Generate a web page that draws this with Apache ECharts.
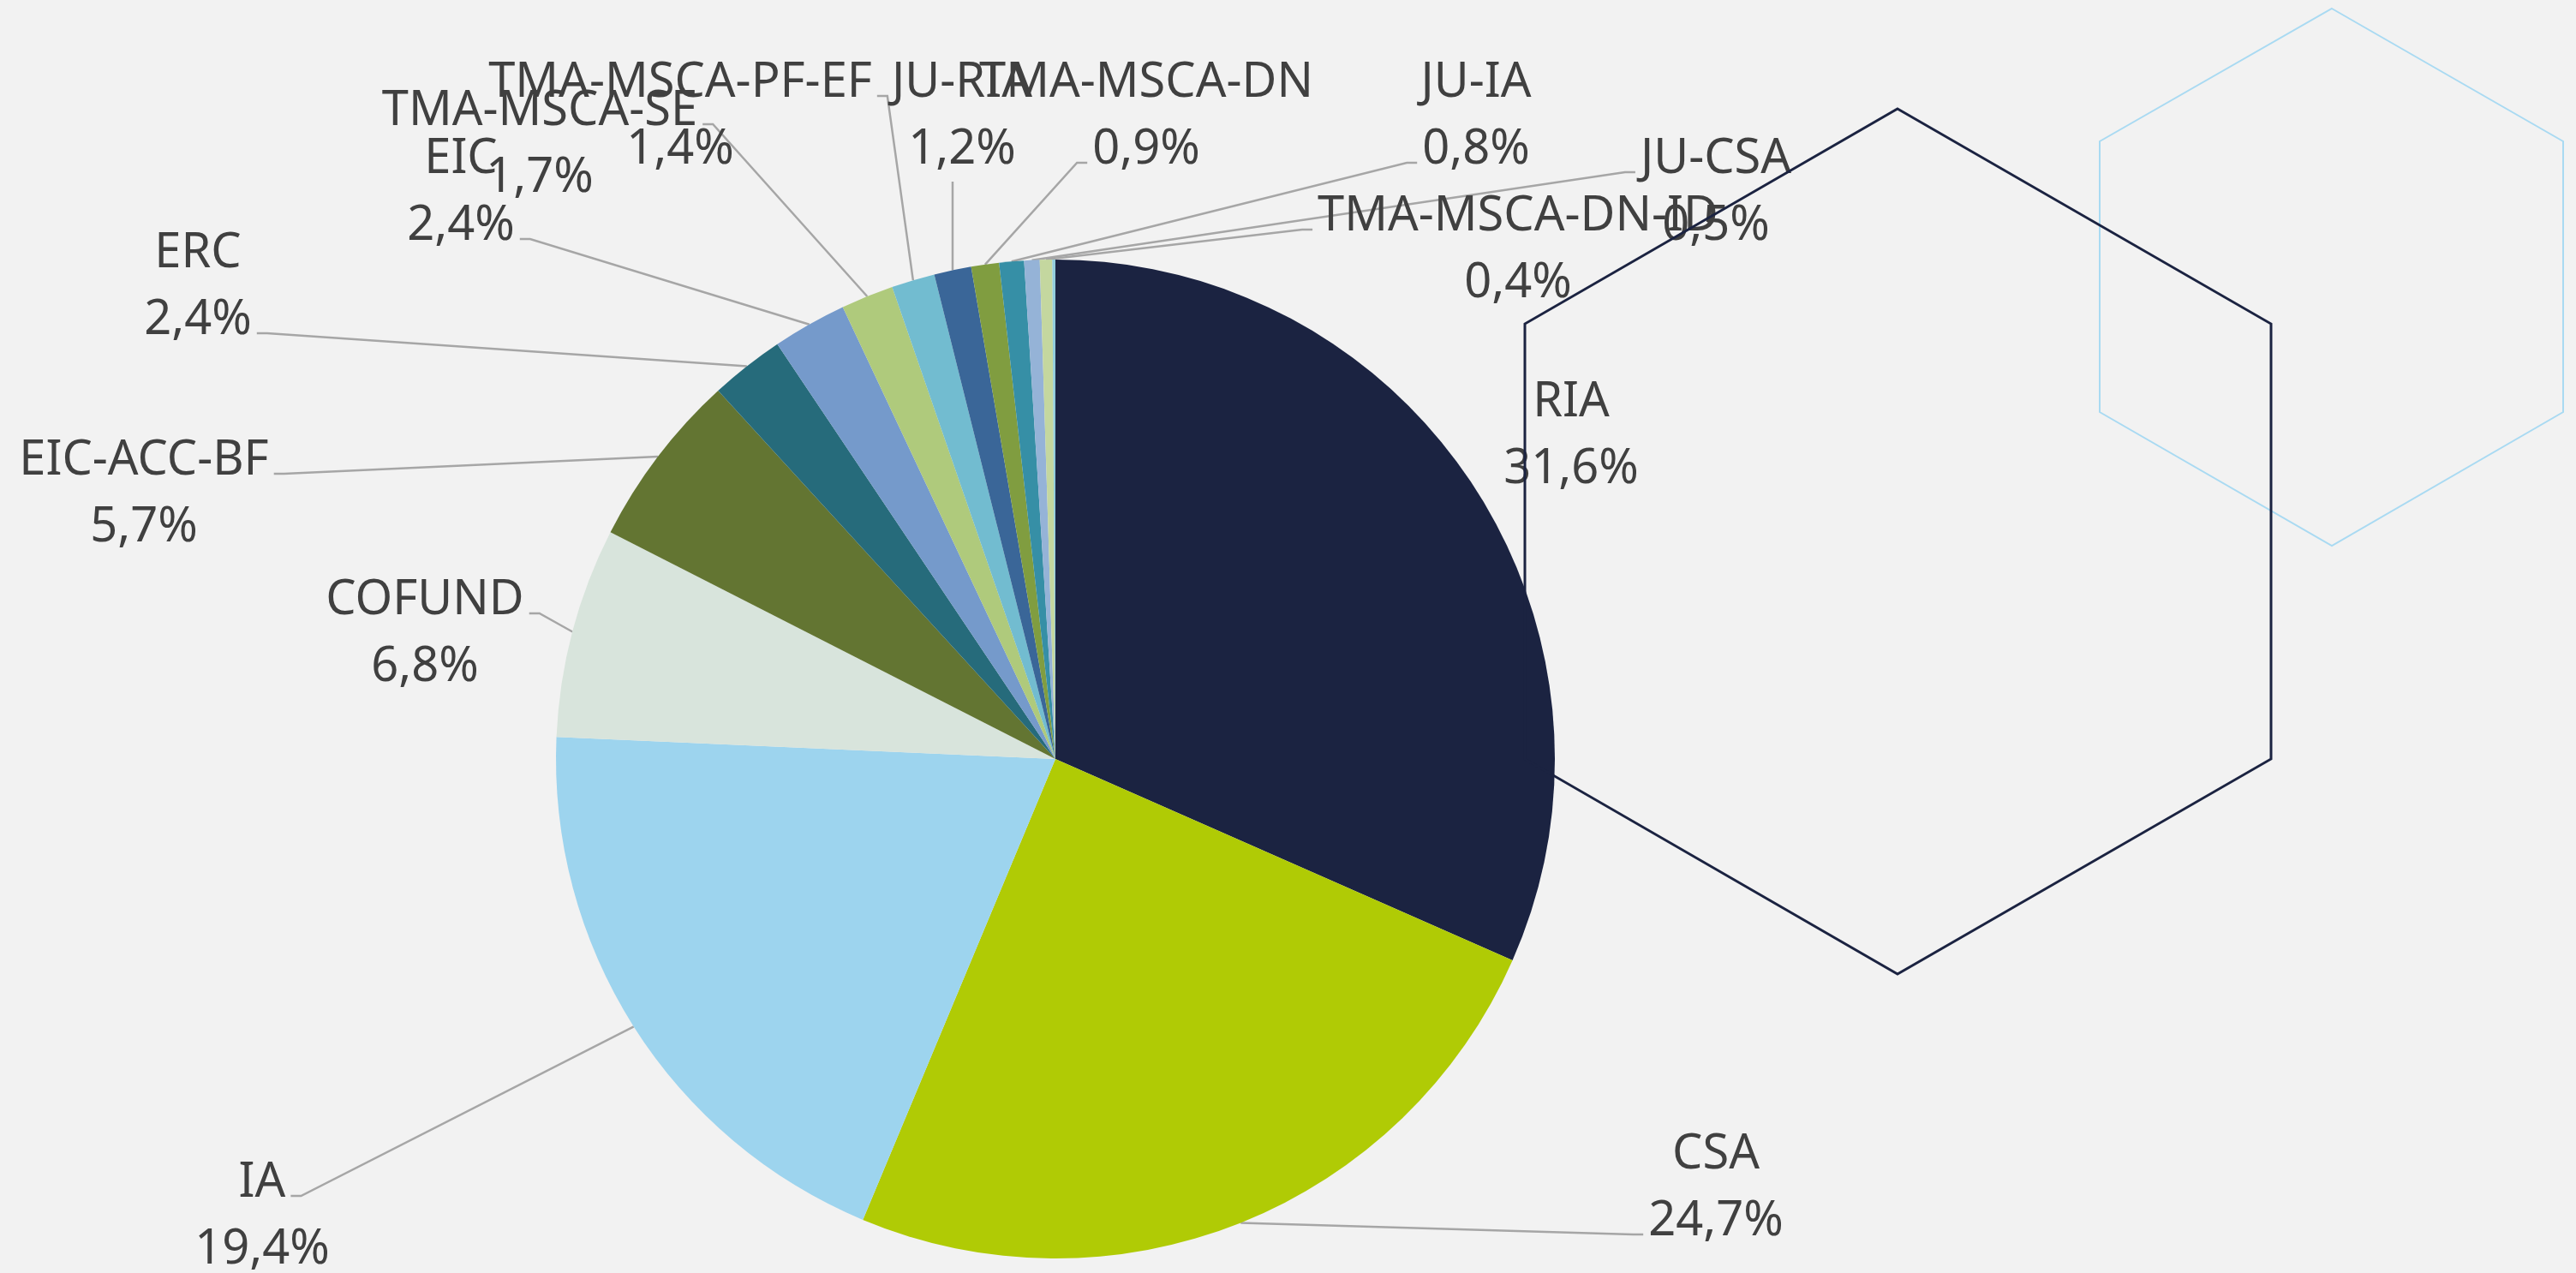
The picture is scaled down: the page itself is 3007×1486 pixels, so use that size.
<!DOCTYPE html>
<html>
<head>
<meta charset="utf-8">
<title>Projects by type of action</title>
<script src="https://cdn.jsdelivr.net/npm/echarts@6/dist/echarts.min.js"></script>
<style>
  html, body { margin: 0; padding: 0; background: #f2f2f2; }
  #chart { width: 3007px; height: 1486px; }
</style>
</head>
<body>
<div id="chart"></div>
<script>
// 数据 (share of projects, %)
const categories = ['RIA', 'CSA', 'IA', 'COFUND', 'EIC-ACC-BF', 'ERC', 'EIC', 'TMA-MSCA-SE',
  'TMA-MSCA-PF-EF', 'JU-RIA', 'TMA-MSCA-DN', 'JU-IA', 'JU-CSA', 'TMA-MSCA-DN-ID', ''];
const shares = [31.6, 24.7, 19.4, 6.8, 5.7, 2.4, 2.4, 1.7, 1.4, 1.2, 0.9, 0.8, 0.5, 0.4, 0.1];

// slice colours
const colors = ['#1b2341', '#b0cb05', '#9dd4ee', '#d8e4dc', '#637532', '#266b7b', '#759acb',
  '#afca7c', '#72bcd0', '#3a6698', '#809d40', '#368fa6', '#95b3d7', '#c4d79f', '#92cddc'];

// where each label block sits (centre, px) - excel "best fit" placement
const labelAt = [[1834, 509], [2003, 1387], [306, 1420], [496, 740], [168, 577], [231, 335],
  [538, 225], [630, 169], [794, 136], [1123, 136], [1338, 136], [1723, 136], [2003, 225], [1772, 292], null];
const noLeader = ['RIA'];

const FONT = '"Noto Sans", "Open Sans", sans-serif';
const FONT_SIZE = 56;
const LINE_H = 78;

const chart = echarts.init(document.getElementById('chart'));

const pieData = categories.map((name, i) => ({
  name: name,
  value: shares[i],
  itemStyle: { color: colors[i] },
  label: { show: name !== '' },
  labelLine: { show: name !== '' && noLeader.indexOf(name) < 0 },
}));

function fmt(v) {
  return v.toFixed(1).replace('.', ',') + '%';
}

// text widths, so the leader can stop at the end of a line of text
const measureCtx = document.createElement('canvas').getContext('2d');
measureCtx.font = FONT_SIZE + 'px ' + FONT;

// puts the label where it is in the original and draws the leader to it
function placeLabel(p) {
  const pos = labelAt[p.dataIndex];
  if (!pos) return {};
  const h = p.labelRect.height;
  const out = { x: pos[0], y: pos[1], align: 'center', verticalAlign: 'middle' };
  const a = p.labelLinePoints && p.labelLinePoints[0];
  if (!a) return out;

  const lines = String(p.text).split('\n');
  const top = pos[1] - h / 2;
  let best = null;
  // top line wins unless a later one is clearly closer
  const take = (d, end, mid) => {
    if (!best || d < best.d - 10) best = { d: d, end: end, mid: mid };
  };
  lines.forEach((txt, i) => {
    const w = measureCtx.measureText(txt).width;
    const ly = top + LINE_H * (i + 0.5) + 15;
    [[pos[0] - w / 2 - 6, -1], [pos[0] + w / 2 + 6, 1]].forEach(([sx, dir]) => {
      take(Math.hypot(a[0] - sx, a[1] - ly), [sx, ly], [sx + dir * 12, ly]);
    });
    // label straight above its slice: leader comes in from below
    if (i === lines.length - 1 && a[1] > top + h && Math.abs(a[0] - pos[0]) < w / 2) {
      const end = [a[0], top + h - 2];
      take(Math.hypot(a[0] - end[0], a[1] - end[1]), end, end);
    }
  });
  out.labelLinePoints = [[a[0], a[1]], best.mid, best.end];
  return out;
}

const hexDark = [[2215, 127], [2651, 378], [2651, 886], [2215, 1137], [1780, 886], [1780, 378]];
const hexLight = [[2722, 10], [2992, 165], [2992, 481], [2722, 637], [2451, 481], [2451, 165]];

const options = {
  backgroundColor: '#f2f2f2',
  animation: false,
  textStyle: { fontFamily: FONT },
  series: [
    {
      type: 'pie',
      center: [1232, 886],
      radius: 583,
      startAngle: 90,
      clockwise: true,
      avoidLabelOverlap: false,
      minShowLabelAngle: 0,
      silent: true,
      itemStyle: { borderWidth: 0 },
      label: {
        position: 'outside',
        formatter: (p) => p.name + '\n' + fmt(p.value),
        color: '#404040',
        fontFamily: FONT,
        fontSize: FONT_SIZE,
        lineHeight: LINE_H,
        align: 'center',
      },
      labelLine: {
        show: true,
        length: 20,
        length2: 10,
        smooth: false,
        lineStyle: { color: '#a6a6a6', width: 2.5 },
      },
      labelLayout: placeLabel,
      emphasis: { disabled: true },
      data: pieData,
    },
  ],
  graphic: [
    {
      type: 'polygon',
      z: 100,
      silent: true,
      shape: { points: hexLight },
      style: { fill: 'none', stroke: '#a9daf2', lineWidth: 2 },
    },
    {
      type: 'polygon',
      z: 100,
      silent: true,
      shape: { points: hexDark },
      style: { fill: 'none', stroke: '#1b2341', lineWidth: 3 },
    },
  ],
};

chart.setOption(options);
</script>
</body>
</html>
